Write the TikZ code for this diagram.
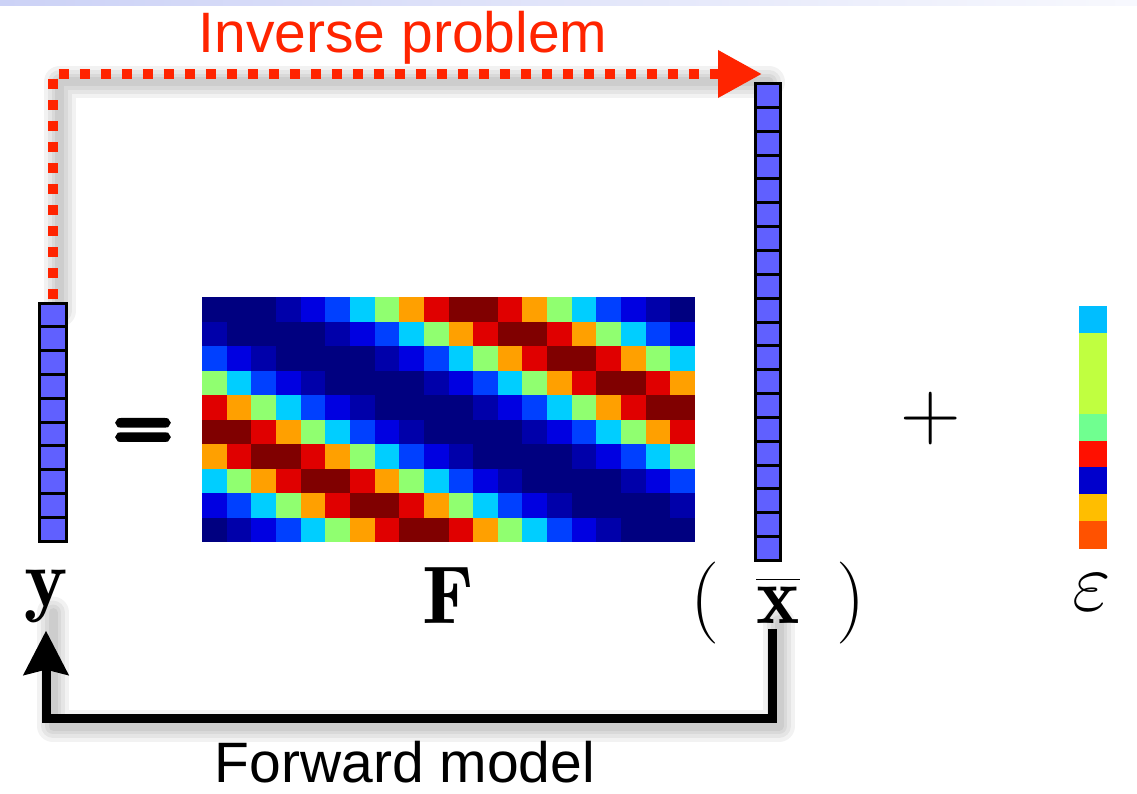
\RequirePackage{fix-cm}
\documentclass[tikz,border=0pt]{standalone}
\usepackage{fontspec}
\newfontfamily\captionfont{Liberation Sans}
\newfontfamily\eqfont{lmroman10-bold.otf}[RawFeature={embolden=9}]
\usetikzlibrary{arrows.meta,backgrounds}
\definecolor{vecblue}{RGB}{96,96,255}
\definecolor{invred}{RGB}{255,36,0}
\definecolor{headtop}{RGB}{204,210,246}
% jet colours of the system matrix
\definecolor{jetN}{RGB}{0,0,128}
\definecolor{jetD}{RGB}{0,0,170}
\definecolor{jetB}{RGB}{0,0,225}
\definecolor{jetL}{RGB}{0,64,255}
\definecolor{jetC}{RGB}{0,206,255}
\definecolor{jetG}{RGB}{144,255,112}
\definecolor{jetO}{RGB}{255,160,0}
\definecolor{jetR}{RGB}{224,0,0}
\definecolor{jetM}{RGB}{128,0,0}
% noise colours
\definecolor{epsC}{RGB}{0,190,255}
\definecolor{epsL}{RGB}{192,255,64}
\definecolor{epsM}{RGB}{112,255,144}
\definecolor{epsR}{RGB}{255,16,0}
\definecolor{epsB}{RGB}{0,0,204}
\definecolor{epsY}{RGB}{255,190,0}
\definecolor{epsO}{RGB}{255,82,0}

\begin{document}
\begin{tikzpicture}[x=1pt, y=-1pt,
    vecbox/.style={draw, line width=3pt, fill=vecblue, inner sep=0pt, outer sep=0pt},
    bigmath/.style={inner sep=0pt, anchor=base, font=\fontsize{82}{90}\selectfont},
    caption/.style={inner sep=0pt, anchor=base, font=\captionfont\fontsize{57}{60}\selectfont},
    shadowline/.style={draw=black, draw opacity=0.05, line join=round, line cap=round},
    inv/.style={draw=invred, line width=10pt, dash pattern=on 10pt off 11pt,
                -{Triangle[length=44pt, width=45pt]}},
    fwd/.style={draw=black, line width=9pt,
                -{Stealth[length=44pt, width=44pt, inset=5pt]}}
  ]
  \useasboundingbox (0,0) rectangle (1137,794);
  \begin{scope}[on background layer]
    \fill[white] (0,0) rectangle (1137,794);
    \shade[left color=headtop, right color=headtop!15] (0,0) rectangle (1137,6);
  \end{scope}

  % measurements y
  \node[vecbox, minimum width=27pt, minimum height=238pt] (yvec) at (52.5,422) {};
  \foreach \i in {1,...,9}
    \draw[line width=3pt] (yvec.north west) ++(0,23.8*\i) -- ++(27,0);
  \node[bigmath] (ylab) at (46,606) {$\mathbf{y}$};

  \node[bigmath, font=\eqfont\fontsize{64}{70}\selectfont] (eqsign) at (143,446) {=};

  % forward operator F
  \foreach \r in {0,...,9}{
    \foreach \c in {0,...,19}{
      \pgfmathsetmacro\k{int(mod(\c-2*\r+40,20))}
      \pgfmathsetmacro\jc{{"N","N","N","D","B","L","C","G","O","R","M","M","R","O","G","C","L","B","D","N"}[\k]}
      \fill[jet\jc] (202+24.65*\c,297+24.5*\r) rectangle ++(25,24.9);
    }
  }
  \node[bigmath] (flab) at (448,623) {$\mathbf{F}$};

  % unknowns x
  \node[vecbox, minimum width=25pt, minimum height=477pt] (xvec) at (768,322) {};
  \foreach \i in {1,...,19}
    \draw[line width=3pt] (xvec.north west) ++(0,23.85*\i) -- ++(25,0);
  \node[bigmath] (lpar) at (705,623) {$($};
  \node[bigmath] (xlab) at (778,623) {$\overline{\mathbf{x}\rule{0pt}{0.52em}}$};
  \node[bigmath] (rpar) at (851,623) {$)$};

  \node[bigmath, font=\fontsize{84}{90}\selectfont] (plus) at (931,439) {$+$};

  % noise
  \foreach \col [count=\i from 0] in {epsC,epsL,epsL,epsL,epsM,epsR,epsB,epsY,epsO}
    \fill[\col] (1079,306+26.9*\i) rectangle ++(28,27.3);
  \node[bigmath, font=\fontsize{84}{90}\selectfont] (elab) at (1092,610) {$\varepsilon$};

  % connectors, with a soft shadow below and to the right
  \coordinate (invtip) at (762,74);
  \coordinate (fwdlow) at (400,718);
  \begin{scope}[on background layer]
    \foreach \w in {32,24,16,9}{
      \draw[shadowline, line width=\w pt] ([shift={(7,8)}]yvec.north) |- ([shift={(7,8)}]invtip);
      \draw[shadowline, line width=\w pt] ([shift={(1,0)}]xlab.south) |- ([shift={(7,8)}]fwdlow)
        -| ([shift={(7,-10)}]ylab.south);
    }
    \draw[inv] ([yshift=4pt]yvec.north) |- (invtip);
    \draw[fwd] ([xshift=-6pt,yshift=-6pt]xlab.south) |- (fwdlow)
      -| ([yshift=-8pt]ylab.south);
  \end{scope}
  \node[caption, text=invred] (invlab) at (403,53) {Inverse problem};
  \node[caption] (fwdlab) at (405,782) {Forward model};
\end{tikzpicture}
\end{document}
